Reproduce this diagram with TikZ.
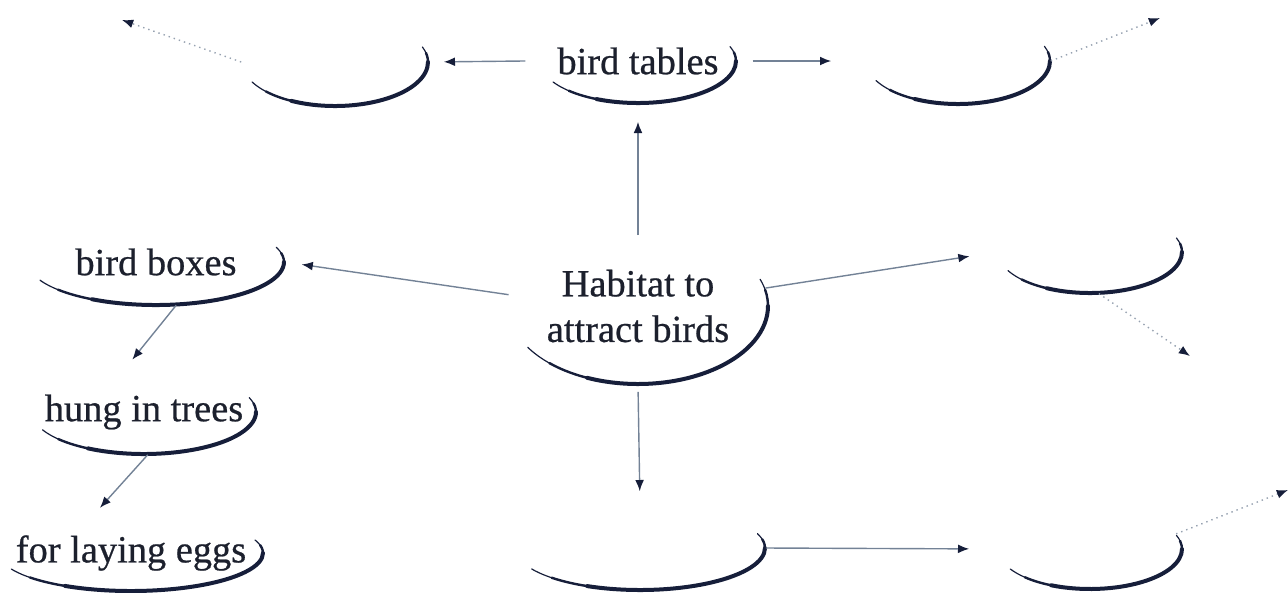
\documentclass[tikz,border=0pt]{standalone}
\usepackage{fontspec}
\setmainfont{Liberation Serif}
\newfontfamily\mapfont{Liberation Serif}[UprightFeatures={FakeBold=0.6}]
\usetikzlibrary{shapes.geometric,arrows.meta}

\definecolor{rimblue}{RGB}{22,30,58}
\definecolor{linkgray}{RGB}{115,130,150}
\definecolor{inkdark}{RGB}{28,32,45}

\tikzset{
  bubble/.style={ellipse, inner sep=0pt, text=inkdark, align=center,
    font=\mapfont\fontsize{9.6}{11.4}\selectfont},
  link/.style={draw=linkgray, line width=0.35pt,
    -{Latex[length=2.8pt,width=2.2pt,color=rimblue]}},
  faint/.style={link, densely dotted, draw=linkgray!75},
  rim/.style={draw=rimblue, line cap=round}
}

\begin{document}
\begin{tikzpicture}[x=0.25pt,y=0.25pt]
  \useasboundingbox (0,0) rectangle (1288,-592);

  % concepts
  \node[bubble, minimum width=46.5pt, minimum height=22pt] (tl) at (335,-62) {};
  \node[bubble, minimum width=49pt, minimum height=21pt] (tables) at (638,-61) {bird tables};
  \node[bubble, minimum width=46pt, minimum height=21.5pt] (tr) at (958,-61) {};
  \node[bubble, minimum width=64pt, minimum height=21.5pt] (boxes) at (156,-262) {bird boxes};
  \node[bubble, minimum width=65pt, minimum height=39pt] (hab) at (638,-306) {Habitat to\\attract birds};
  \node[bubble, minimum width=46pt, minimum height=20.5pt] (rm) at (1090,-252) {};
  \node[bubble, minimum width=56pt, minimum height=21pt] (hung) at (144,-412) {hung in trees};
  \node[bubble, minimum width=66pt, minimum height=19pt] (eggs) at (131,-553) {for laying eggs};
  \node[bubble, minimum width=62.5pt, minimum height=21pt] (bc) at (640,-548) {};
  \node[bubble, minimum width=46pt, minimum height=20pt] (br) at (1090,-549) {};

  \coordinate (tlc) at (122,-20);
  \coordinate (trc) at (1160,-18);
  \coordinate (rmc) at (1190,-356);
  \coordinate (brc) at (1288,-490);

  % shaded rims
  \foreach \n/\a/\b/\s in {tl/93/44/207, tables/98/42/210, tr/92/43/207,
      boxes/128/43/205, hab/130/78/212, rm/92/41/207, hung/112/42/205,
      eggs/132/38/205, bc/125/42/210, br/92/40/210} {
    \draw[rim, line width=0.3pt] (\n.center) ++(\s:{\a} and {\b})
      arc[start angle=\s, end angle=380, x radius=\a, y radius=\b];
    \draw[rim, line width=0.6pt] (\n.center) ++(\s+15:{\a} and {\b})
      arc[start angle=\s+15, end angle=372, x radius=\a, y radius=\b];
    \draw[rim, line width=1pt] (\n.center) ++(\s+35:{\a} and {\b})
      arc[start angle=\s+35, end angle=360, x radius=\a, y radius=\b];
  }

  % links
  \draw[link, shorten <=-2pt, shorten >=4.5pt] (hab.north) -- (tables.south);
  \draw[link, shorten <=-0.5pt, shorten >=3.75pt] (tables.west) -- (tl.east);
  \draw[link, shorten >=8.5pt] (tables.east) -- (tr.west);
  \draw[link, shorten >=4.25pt] (hab.175) -- (boxes.east);
  \draw[link, shorten >=7pt] (hab.8) -- (rm.west);
  \draw[link, shorten <=1.75pt, shorten >=3.5pt] (hab.south) -- (bc.north);
  \draw[link, shorten >=7pt] (bc.east) -- (br.west);
  \draw[link, shorten >=3.2pt] (boxes.295) -- (hung.115);
  \draw[link, shorten >=2.5pt] (hung.275) -- (eggs.135);

  \draw[faint] (tl.west) -- (tlc);
  \draw[faint] (tr.east) -- (trc);
  \draw[faint] (rm.282) -- (rmc);
  \draw[faint] (br.10) -- (brc);
\end{tikzpicture}
\end{document}
